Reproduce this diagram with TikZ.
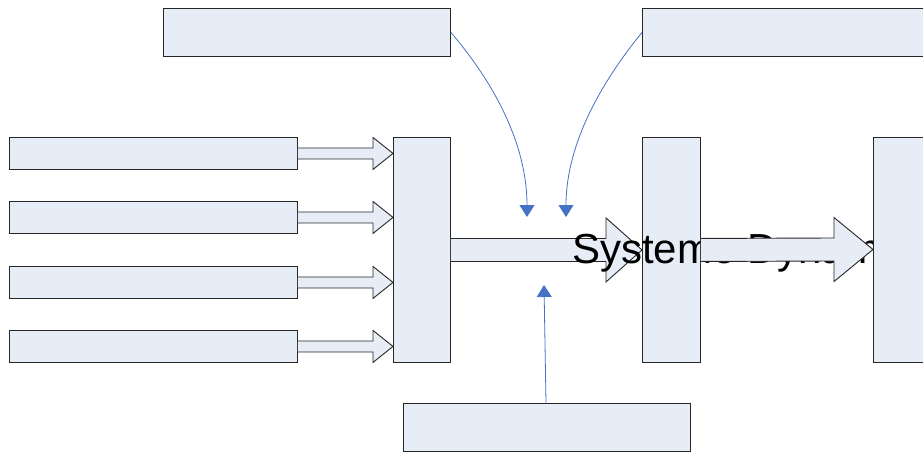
\documentclass[tikz,border=0pt]{standalone}
\usepackage{fontspec}
\setmainfont{Liberation Sans}
\usetikzlibrary{calc,arrows.meta}

\definecolor{boxfill}{RGB}{230,237,247}
\definecolor{linkblue}{RGB}{68,114,196}

\tikzset{
  box/.style={draw=black!85, fill=boxfill, line width=0.9pt, rectangle,
              inner sep=0pt, anchor=north west},
  blockarr/.style={draw=black!85, fill=boxfill, line width=0.9pt, line join=miter},
  link/.style={draw=linkblue, line width=0.8pt,
               -{Triangle[width=15pt,length=12pt]}, linkblue}
}

% hollow block arrow: #1 tail point, #2 tip point (same height),
% #3 shaft half height, #4 head half height, #5 head length
\newcommand{\fatarrow}[5]{%
  \path[blockarr] ($(#1)+(0,#3)$) -- ($(#2)+(-#5,#3)$) -- ($(#2)+(-#5,#4)$)
     -- (#2) -- ($(#2)+(-#5,-#4)$) -- ($(#2)+(-#5,-#3)$) -- ($(#1)+(0,-#3)$);}

\begin{document}
\begin{tikzpicture}[x=1pt,y=-1pt]
\useasboundingbox (0,0) rectangle (923,453);
\clip (0,0) rectangle (923,453);

% upper boxes
\node[box, minimum width=287, minimum height=48] (topl) at (163,8) {};
\node[box, minimum width=300, minimum height=48] (topr) at (642,8) {};

% input column
\node[box, minimum width=288, minimum height=32] (in1) at (9,137) {};
\node[box, minimum width=288, minimum height=32] (in2) at (9,201) {};
\node[box, minimum width=288, minimum height=32] (in3) at (9,266) {};
\node[box, minimum width=288, minimum height=32] (in4) at (9,330) {};

% collector
\node[box, minimum width=57, minimum height=225] (mid) at (393,137) {};

% lower box
\node[box, minimum width=287, minimum height=48] (bot) at (403,403) {};

% inputs into the collector
\foreach \i in {in1,in2,in3,in4}{
  \coordinate (t-\i) at (mid.west |- \i.east);
  \fatarrow{\i.east}{t-\i}{5.5}{16}{20}
}

% main flow
\node[box, minimum width=58, minimum height=225] (sys) at (642,137) {};
\coordinate (tip1) at (sys.west |- mid.east);
\fatarrow{mid.east}{tip1}{11.5}{32}{36}

\node[anchor=base west, inner sep=0pt, font=\fontsize{42}{50}\selectfont]
  (label) at (572,263) {Systeme Dynamique};

\coordinate (tip2) at (873,249.5);
\fatarrow{sys.east}{tip2}{11.5}{32}{39}
\node[box, minimum width=120, minimum height=225] (out) at (873,137) {};

% influences on the main flow
\coordinate (e1) at (527,217);
\coordinate (e2) at (566,217);
\coordinate (e3) at (544,285);
\draw[link] (topl.east) .. controls (500,90) and (527,150) .. (e1);
\draw[link] (topr.west) .. controls (595,90) and (566,150) .. (e2);
\draw[link] (bot.north -| 546,0) -- (e3);
\end{tikzpicture}
\end{document}
